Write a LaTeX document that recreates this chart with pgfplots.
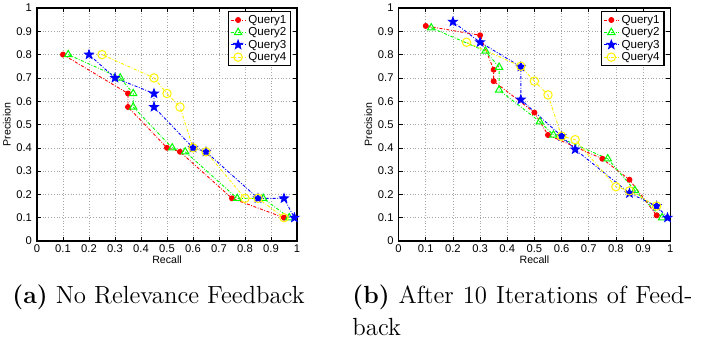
\documentclass[border=0pt]{standalone}
\usepackage{fontspec}
\usepackage{pgfplots}
\pgfplotsset{compat=1.18}
\newfontfamily\arialfont{Liberation Sans}
\pgfdeclareplotmark{pentagram}{%
  \pgfpathmoveto{\pgfpointpolar{90}{\pgfplotmarksize}}%
  \pgfpathlineto{\pgfpointpolar{126}{0.42\pgfplotmarksize}}%
  \pgfpathlineto{\pgfpointpolar{162}{\pgfplotmarksize}}%
  \pgfpathlineto{\pgfpointpolar{198}{0.42\pgfplotmarksize}}%
  \pgfpathlineto{\pgfpointpolar{234}{\pgfplotmarksize}}%
  \pgfpathlineto{\pgfpointpolar{270}{0.42\pgfplotmarksize}}%
  \pgfpathlineto{\pgfpointpolar{306}{\pgfplotmarksize}}%
  \pgfpathlineto{\pgfpointpolar{342}{0.42\pgfplotmarksize}}%
  \pgfpathlineto{\pgfpointpolar{18}{\pgfplotmarksize}}%
  \pgfpathlineto{\pgfpointpolar{54}{0.42\pgfplotmarksize}}%
  \pgfpathclose
  \pgfusepathqfillstroke}
\pgfplotsset{
  prstyle/.style={
    scale only axis, height=116.5pt,
    xmin=0, xmax=1, ymin=0, ymax=1,
    xtick={0,0.1,...,1}, ytick={0,0.1,...,1},
    xticklabels={0,0.1,0.2,0.3,0.4,0.5,0.6,0.7,0.8,0.9,1},
    yticklabels={0,0.1,0.2,0.3,0.4,0.5,0.6,0.7,0.8,0.9,1},
    tick align=inside, major tick length=2pt,
    tick style={black, line width=0.3pt},
    axis line style={line width=0.6pt},
    grid=major, major grid style={densely dotted, gray!70, line width=0.3pt},
    ticklabel style={font=\arialfont\fontsize{5.6}{6.5}\selectfont},
    xticklabel style={yshift=1.5pt},
    yticklabel style={xshift=1pt},
    label style={font=\arialfont\fontsize{5.3}{6}\selectfont},
    xlabel={Recall}, ylabel={Precision},
    xlabel style={yshift=5.5pt},
    ylabel style={yshift=-4pt},
    /pgf/number format/assume math mode=true,
    legend style={at={(1,1)}, anchor=north east, xshift=-2.8pt, yshift=-1.6pt,
      font=\arialfont\fontsize{5.8}{6.5}\selectfont, draw=black, line width=0.6pt,
      inner xsep=1pt, inner ysep=1pt, row sep=0pt,
      nodes={inner ysep=0.4pt, inner xsep=1.2pt, text height=4.4pt, text depth=1pt},
      cells={anchor=west}},
    legend image code/.code={%
      \draw[mark repeat=2,mark phase=2] plot coordinates {(0cm,0cm) (0.13cm,0cm) (0.26cm,0cm)};},
    every axis plot/.append style={line width=0.45pt, dash pattern=on 1.5pt off 0.8pt on 0.4pt off 0.8pt},
  },
  q1/.style={color=red, mark=*, mark size=1.25pt, mark options={solid, fill=red}},
  q2/.style={color=green, mark=triangle, mark size=2.1pt, mark options={solid, line width=0.5pt}},
  q3/.style={color=blue, mark=pentagram, mark size=2.3pt, mark options={solid, fill=blue}},
  q4/.style={color=yellow, mark=o, mark size=2.1pt, mark options={solid, line width=0.5pt}},
}
\begin{document}
\begin{tikzpicture}
\useasboundingbox (0,0) rectangle (352pt,169pt);
\begin{axis}[prstyle, width=130pt, at={(18.5pt,48.5pt)}, anchor=south west]
\addplot[q1] coordinates {(0.1,0.8)(0.35,0.633)(0.35,0.575)(0.5,0.4)(0.55,0.383)(0.75,0.183)(0.95,0.1)};
\addlegendentry{Query1}
\addplot[q2] coordinates {(0.12,0.8)(0.32,0.7)(0.37,0.633)(0.37,0.575)(0.52,0.4)(0.57,0.383)(0.77,0.183)(0.87,0.183)(0.97,0.1)};
\addlegendentry{Query2}
\addplot[q3] coordinates {(0.2,0.8)(0.3,0.7)(0.45,0.633)(0.45,0.575)(0.6,0.4)(0.65,0.383)(0.85,0.183)(0.95,0.183)(0.99,0.1)};
\addlegendentry{Query3}
\addplot[q4] coordinates {(0.25,0.8)(0.45,0.7)(0.5,0.633)(0.55,0.575)(0.6,0.4)(0.65,0.383)(0.8,0.183)(0.85,0.183)(0.95,0.1)};
\addlegendentry{Query4}
\end{axis}
\begin{axis}[prstyle, width=135.8pt, at={(199.3pt,48.5pt)}, anchor=south west]
\addplot[q1] coordinates {(0.1,0.923)(0.3,0.883)(0.35,0.735)(0.35,0.686)(0.5,0.551)(0.55,0.455)(0.75,0.353)(0.85,0.263)(0.95,0.11)};
\addlegendentry{Query1}
\addplot[q2] coordinates {(0.12,0.915)(0.32,0.815)(0.37,0.746)(0.37,0.648)(0.52,0.512)(0.57,0.455)(0.77,0.353)(0.87,0.217)(0.97,0.1)};
\addlegendentry{Query2}
\addplot[q3] coordinates {(0.2,0.941)(0.3,0.853)(0.45,0.748)(0.45,0.607)(0.6,0.45)(0.65,0.393)(0.85,0.205)(0.95,0.15)(0.99,0.1)};
\addlegendentry{Query3}
\addplot[q4] coordinates {(0.25,0.853)(0.45,0.75)(0.5,0.686)(0.55,0.627)(0.6,0.45)(0.65,0.435)(0.8,0.233)(0.85,0.215)(0.95,0.15)};
\addlegendentry{Query4}
\end{axis}
\node[anchor=base west, inner sep=0pt, font=\fontsize{12.4}{16}\selectfont] at (6pt,17.5pt) {\textbf{(a)} No Relevance Feedback};
\node[anchor=base west, inner sep=0pt, text width=170pt, align=justify, font=\fontsize{12.4}{16}\selectfont] at (176pt,17.5pt) {\textbf{(b)} After 10 Iterations of Feed-\linebreak back};
\end{tikzpicture}
\end{document}
